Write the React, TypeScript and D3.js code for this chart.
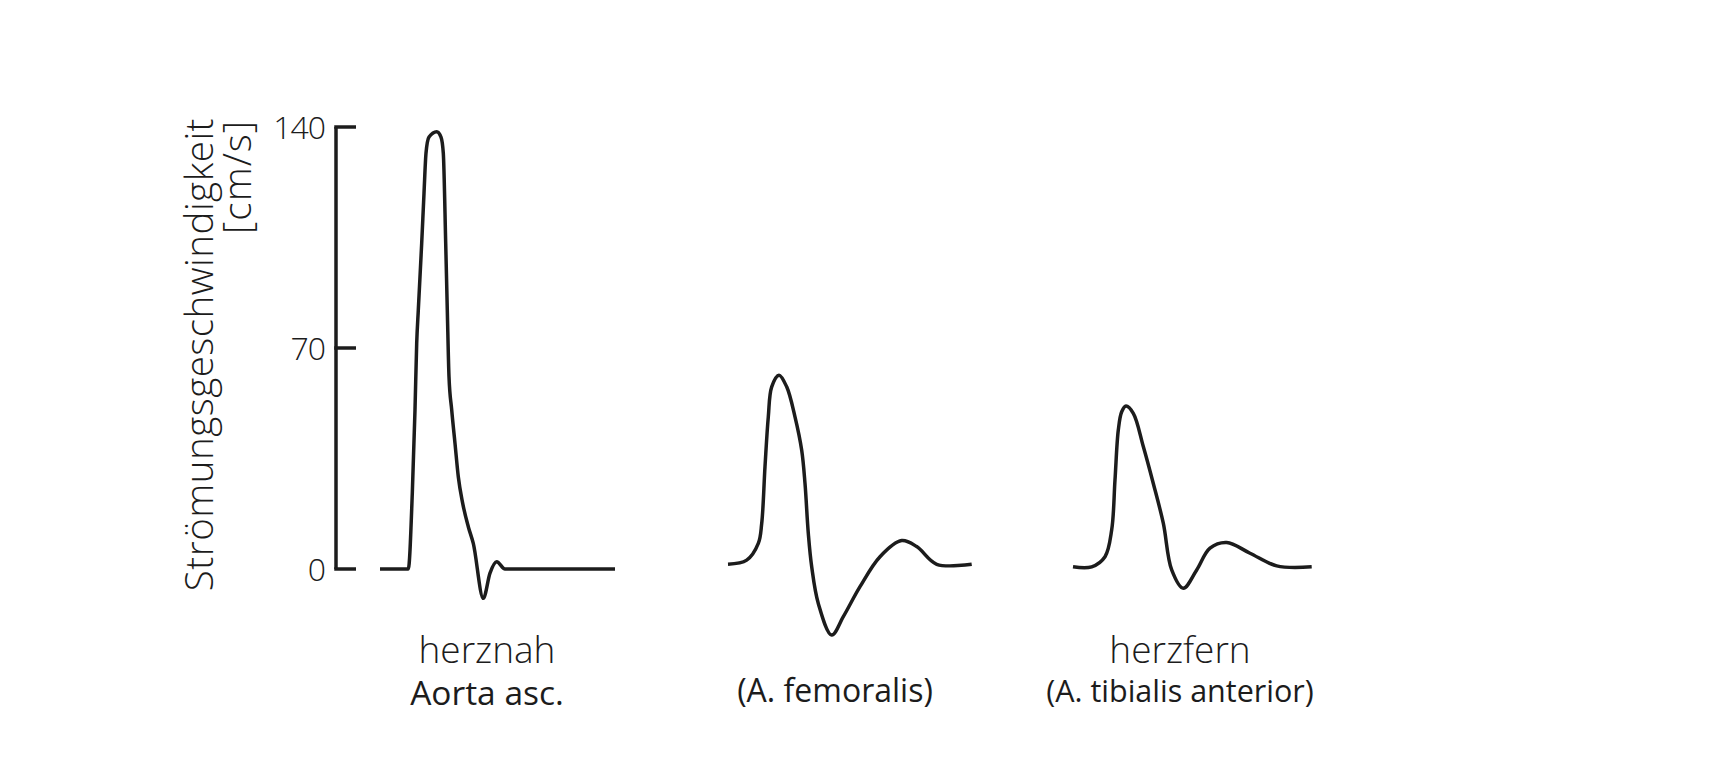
import * as d3 from "d3";

// flow velocity [cm/s] over time (arbitrary units) for each vessel
const aorta: [number, number][] = [
  [0, 0], [28.3, 0], [32.3, 24], [35, 50.4], [36.7, 71.5], [38.3, 82],
  [41.7, 103.2], [44, 119], [46, 131.7], [49, 136.8], [56.7, 138.5],
  [61, 136.8], [63.3, 131.7], [65.7, 103.2], [67.3, 82], [69, 60.9],
  [71.7, 50.4], [75, 39.8], [78.3, 29.2], [82.7, 20.8], [88.3, 13.4],
  [93.3, 8.1], [103.3, -9.3], [110, -1.3], [116.7, 2.3], [125, 0], [235, 0],
];

const femoralis: [number, number][] = [
  [0, 1.5], [18.7, 2.8], [30.3, 8.1], [33.7, 14.4], [37, 32.4], [40.3, 48.2],
  [43.7, 57.7], [51, 61.4], [58.7, 57.7], [67, 48.2], [73.7, 37.6], [77, 27.1],
  [80.3, 11.3], [83.7, 0.7], [90.3, -10.9], [103.7, -20.9], [115.3, -15.1],
  [132, -5.6], [152, 3.9], [173.7, 9], [188.7, 7.1], [208.7, 1.5], [243.7, 1.5],
];

const tibialis: [number, number][] = [
  [0, 0.7], [18.7, 0.7], [32, 3.9], [38.7, 12.4], [42, 28.2], [45.3, 44],
  [48.7, 49.8], [53, 51.6], [60.3, 49.3], [70.3, 38.8], [80.3, 27.1],
  [90.3, 14.5], [98.7, -0.3], [110.3, -6.1], [123.7, -0.3], [137, 6.6],
  [153.7, 8.4], [177, 5], [203.7, 1], [238.7, 0.7],
];

const series = [aorta, femoralis, tibialis];
const curves = [d3.curveMonotoneX, d3.curveCatmullRom.alpha(0.5), d3.curveCatmullRom.alpha(0.5)];
const titles = ["herznah", "", "herzfern"];
const vessels = ["Aorta asc.", "(A. femoralis)", "(A. tibialis anterior)"];
const vesselSizes = [33.5, 32, 30.5];
const yTicks = [0, 70, 140];

const ink = "#1c1c1c";
const font = "'Open Sans', Lato, sans-serif";

export default function App() {
  const w = 1712;
  const h = 760;

  const y = d3.scaleLinear().domain([0, 140]).range([569, 127]);
  const panelStart = [380, 728, 1073];
  const axisX = 336;

  return (
    <svg
      width={w}
      height={h}
      style={{ position: "absolute", left: 0, top: 0, background: "#fff" }}
    >
      {/* y axis */}
      <line x1={axisX} x2={axisX} y1={y(0)} y2={y(140)} stroke={ink} strokeWidth={3.5} />
      {yTicks.map((t) => (
        <g key={t}>
          <line x1={axisX - 1.75} x2={axisX + 20} y1={y(t)} y2={y(t)} stroke={ink} strokeWidth={3.5} />
          <text
            x={325}
            y={y(t)}
            dy="0.36em"
            textAnchor="end"
            fontFamily={font}
            fontWeight={300}
            fontSize={32}
            letterSpacing={-1}
            fill={ink}
          >
            {t}
          </text>
        </g>
      ))}
      <text
        transform="translate(213,118) rotate(-90)"
        textAnchor="end"
        fontFamily={font}
        fontWeight={300}
        fontSize={38.5}
        letterSpacing={0.5}
        fill={ink}
      >
        Strömungsgeschwindigkeit
      </text>
      <text
        transform="translate(251,120) rotate(-90)"
        textAnchor="end"
        fontFamily={font}
        fontWeight={300}
        fontSize={38.5}
        letterSpacing={1}
        fill={ink}
      >
        [cm/s]
      </text>

      {series.map((data, i) => {
        const x = d3
          .scaleLinear()
          .domain([0, 240])
          .range([panelStart[i], panelStart[i] + 240]);
        const line = d3
          .line<[number, number]>()
          .x((d) => x(d[0]))
          .y((d) => y(d[1]))
          .curve(curves[i]);
        const cx = x(107);
        return (
          <g key={i}>
            <path
              d={line(data) ?? ""}
              fill="none"
              stroke={ink}
              strokeWidth={3.5}
              strokeLinejoin="round"
            />
            {titles[i] && (
              <text
                x={cx}
                y={663}
                textAnchor="middle"
                fontFamily={font}
                fontWeight={300}
                fontSize={37}
                fill={ink}
              >
                {titles[i]}
              </text>
            )}
            <text
              x={cx}
              y={i === 0 ? 705 : 702}
              textAnchor="middle"
              fontFamily={font}
              fontWeight={500}
              fontSize={vesselSizes[i]}
              fill={ink}
            >
              {vessels[i]}
            </text>
          </g>
        );
      })}
    </svg>
  );
}
